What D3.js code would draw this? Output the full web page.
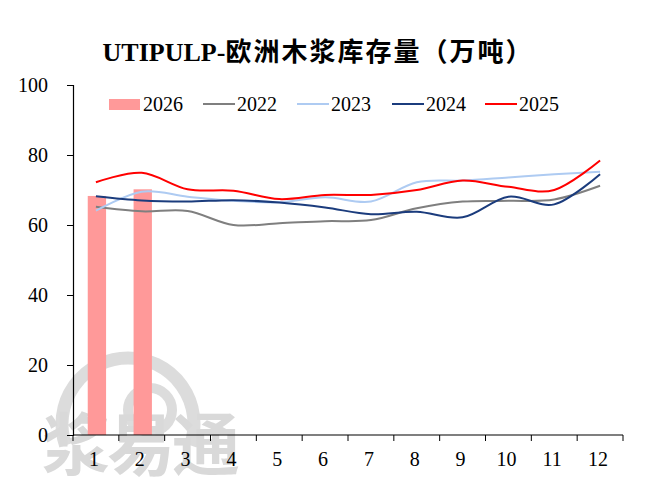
<!DOCTYPE html>
<html>
<head>
<meta charset="utf-8">
<script src="https://cdn.jsdelivr.net/npm/d3@7"></script>
<style>
  body { margin: 0; background: #fff; }
  svg { display: block; }
</style>
</head>
<body>
<div id="chart"></div>
<script>
// data
var months   = ['1', '2', '3', '4', '5', '6', '7', '8', '9', '10', '11', '12'];
var yTicks   = [0, 20, 40, 60, 80, 100];
var bars2026 = [68.3, 70.2];
var s2022 = [65.2, 63.9, 64.0, 60.0, 60.5, 61.1, 61.4, 64.8, 66.7, 66.9, 67.3, 71.2];
var s2023 = [64.1, 69.5, 68.1, 66.9, 66.5, 67.9, 66.7, 72.2, 72.7, 73.6, 74.5, 75.2];
var s2024 = [68.2, 67.0, 66.7, 67.1, 66.4, 65.0, 63.1, 63.8, 62.2, 68.1, 65.9, 74.5];
var s2025 = [72.2, 74.9, 70.2, 69.8, 67.4, 68.6, 68.6, 70.0, 72.7, 70.9, 70.0, 78.4];

var lines = [
    { name: '2022', values: s2022, color: '#7f7f7f' },
    { name: '2023', values: s2023, color: '#aecbf2' },
    { name: '2024', values: s2024, color: '#1b3c7d' },
    { name: '2025', values: s2025, color: '#ff0000' }
];

var W = 649, H = 496,
    plotL = 73, plotR = 623, plotT = 85, plotB = 435,
    serif = '"Liberation Serif", "Times New Roman", serif',
    cjk   = '"Liberation Serif", "Noto Sans CJK SC", serif';

var svg = d3.select('#chart').append('svg')
    .attr('width', W)
    .attr('height', H);

// watermark, sits behind everything
var wm = svg.append('g').attr('fill', 'none').attr('stroke', '#dcdcdc');
wm.append('path')
    .attr('stroke-width', 13)
    .attr('d', d3.arc()({ innerRadius: 66, outerRadius: 66, startAngle: -1.9, endAngle: 1.9 }))
    .attr('transform', 'translate(128,424)');
wm.append('circle').attr('cx', 150).attr('cy', 410).attr('r', 22).attr('stroke-width', 10);
svg.append('text')
    .attr('x', 42).attr('y', 470)
    .style('font-family', '"Noto Sans CJK SC", sans-serif')
    .style('font-weight', 'bold')
    .style('font-size', '68px')
    .style('fill', '#d9d9d9')
    .style('letter-spacing', '-3px')
    .text('浆易通');

var x = d3.scaleBand().domain(months).range([plotL, plotR]).paddingInner(0).paddingOuter(0);
var y = d3.scaleLinear().domain([0, 100]).range([plotB, plotT]);

// bars for 2026
var barW = x.bandwidth() * 0.4;
svg.selectAll('rect.bar')
    .data(bars2026)
    .enter()
    .append('rect')
    .attr('class', 'bar')
    .attr('x', function(d, i) { return x(months[i]) + x.bandwidth() / 2 - barW / 2 + 1; })
    .attr('y', function(d) { return y(d); })
    .attr('width', barW)
    .attr('height', function(d) { return y(0) - y(d); })
    .attr('fill', '#ff9999');

// smoothed lines
var line = d3.line()
    .x(function(d, i) { return x(months[i]) + x.bandwidth() / 2; })
    .y(function(d) { return y(d); })
    .curve(d3.curveCardinal.tension(0));

svg.selectAll('path.series')
    .data(lines)
    .enter()
    .append('path')
    .attr('class', 'series')
    .attr('fill', 'none')
    .attr('stroke', function(d) { return d.color; })
    .attr('stroke-width', 2)
    .attr('d', function(d) { return line(d.values); });

// y axis
var yAxis = svg.append('g')
    .attr('transform', 'translate(' + plotL + ',0)')
    .call(d3.axisLeft(y).tickValues(yTicks).tickSize(6).tickPadding(19));
yAxis.select('.domain').attr('stroke', '#000').attr('stroke-width', 1.2);
yAxis.selectAll('text')
    .style('font-family', serif)
    .style('font-size', '20px')
    .attr('fill', '#000');

// x axis: ticks at category boundaries
var xAxis = svg.append('g').attr('transform', 'translate(0,' + plotB + ')');
xAxis.append('line')
    .attr('x1', plotL).attr('x2', plotR)
    .attr('stroke', '#000').attr('stroke-width', 1.2);
xAxis.selectAll('line.tick')
    .data(months.concat(['end']))
    .enter()
    .append('line')
    .attr('class', 'tick')
    .attr('x1', function(d, i) { return i < months.length ? x(d) : plotR; })
    .attr('x2', function(d, i) { return i < months.length ? x(d) : plotR; })
    .attr('y1', 0).attr('y2', 6)
    .attr('stroke', '#000');
xAxis.selectAll('text')
    .data(months)
    .enter()
    .append('text')
    .attr('x', function(d) { return x(d) + x.bandwidth() / 2 - 2; })
    .attr('y', 31)
    .attr('text-anchor', 'middle')
    .style('font-family', serif)
    .style('font-size', '20px')
    .text(function(d) { return d; });

// title
var title = svg.append('text')
    .attr('x', 318).attr('y', 61)
    .attr('text-anchor', 'middle')
    .style('font-family', cjk)
    .style('font-weight', 'bold')
    .style('font-size', '26px');
title.append('tspan').text('UTIPULP-');
title.append('tspan').style('letter-spacing', '2px').text('欧洲木浆库存量（万吨）');

// legend
var legend = svg.append('g').attr('transform', 'translate(0,104)');
legend.append('rect')
    .attr('x', 109).attr('y', -5)
    .attr('width', 31).attr('height', 11)
    .attr('fill', '#ff9999');
legend.append('text')
    .attr('x', 143).attr('y', 6.5)
    .style('font-family', serif).style('font-size', '20px')
    .text('2026');
var legendX = [203, 297, 392, 485];
lines.forEach(function(s, i) {
    legend.append('line')
        .attr('x1', legendX[i]).attr('x2', legendX[i] + 32)
        .attr('y1', 0).attr('y2', 0)
        .attr('stroke', s.color).attr('stroke-width', 2);
    legend.append('text')
        .attr('x', legendX[i] + 34).attr('y', 6.5)
        .style('font-family', serif).style('font-size', '20px')
        .text(s.name);
});
</script>
</body>
</html>
